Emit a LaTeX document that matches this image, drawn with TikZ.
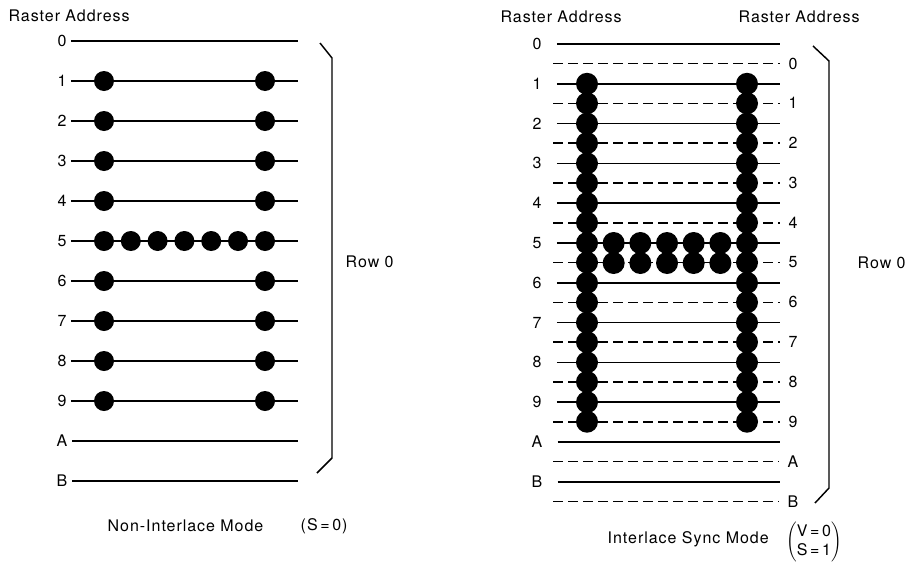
\documentclass[tikz,border=0pt]{standalone}
\usepackage{fontspec}
\setmainfont{TeX Gyre Heros}[LetterSpace=6.0]

\begin{document}
\begin{tikzpicture}[x=0.75pt,y=-0.75pt,line width=1.1pt,
	addr/.style={inner sep=3pt,font=\fontsize{12}{14}\selectfont},
	caption/.style={anchor=west,inner sep=0pt,font=\fontsize{12}{14}\selectfont},
	half/.style={line width=1.2pt,dash pattern=on 7.5pt off 3.75pt}]

	\useasboundingbox (0,0) rectangle (906,575);

	% non-interlace side
	\node[caption] (lefttitle) at (8,16) {Raster Address};
	\foreach \r/\lab in {0/0,1/1,2/2,3/3,4/4,5/5,6/6,7/7,8/8,9/9,10/A,11/B} {
		\node[addr] (L\r) at (62,41+40*\r) {\lab};
		\coordinate (LE\r) at (298,41+40*\r);
		\draw (L\r.east) -- (LE\r);
	}
	\foreach \r in {1,...,9} {
		\fill (104,41+40*\r) circle(10);
		\fill (265,41+40*\r) circle(10);
	}
	\foreach \x in {1,...,5}
		\fill (104+26.8*\x,241) circle(10);

	\draw (320,43) -- (332,58) -- (332,458) -- (317,473);
	\node[caption] (leftrow) at (345,262) {Row 0};

	\node[caption] (leftmode) at (107,526) {Non-Interlace Mode};
	\node[caption] (leftbits) at (300,526) {(S\,=\,0)};

	% interlace sync side
	\node[caption] (righttitle) at (500,17) {Raster Address};
	\node[caption] (righttitle2) at (738,17) {Raster Address};
	\foreach \r/\lab in {0/0,1/1,2/2,3/3,4/4,5/5,6/6,7/7,8/8,9/9,10/A,11/B} {
		\node[addr] (RL\r) at (537,44+39.8*\r) {\lab};
		\coordinate (RE\r) at (780,44+39.8*\r);
		\draw[shorten <=8pt] (RL\r.east) -- (RE\r);
		\node[addr] (RR\r) at (793,63.5+39.8*\r) {\lab};
		\coordinate (RS\r) at (553,63.5+39.8*\r);
		\draw[half,shorten >=3pt] (RS\r) -- (RR\r.west);
	}
	\foreach \r in {1,...,9} {
		\fill (587,44+39.8*\r) circle(11);
		\fill (587,63.5+39.8*\r) circle(11);
		\fill (747,44+39.8*\r) circle(11);
		\fill (747,63.5+39.8*\r) circle(11);
	}
	\foreach \x in {1,...,5} {
		\fill (587+26.67*\x,243) circle(11);
		\fill (587+26.67*\x,263) circle(11);
	}

	\draw (813,46) -- (829,61) -- (829,488) -- (815,503);
	\node[caption] (rightrow) at (857,263) {Row 0};

	\node[caption] (rightmode) at (607,539) {Interlace Sync Mode};
	\node[inner sep=0pt,font=\fontsize{12}{14}\selectfont] (rightbits) at (814,542)
		{$\left(\begin{tabular}{@{}l@{}}V\,=\,0\\S\,=\,1\end{tabular}\right)$};

\end{tikzpicture}
\end{document}
